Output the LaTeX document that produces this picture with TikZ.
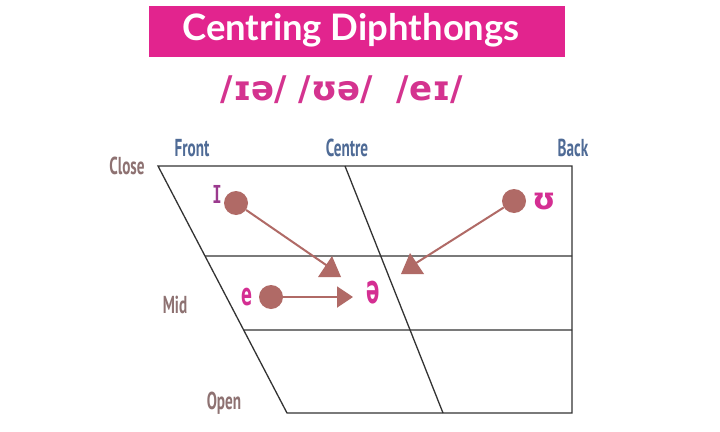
\documentclass[tikz,border=0pt]{standalone}
\usepackage{graphicx}
\usepackage{fontspec}
\setmainfont{Lato}
\newfontfamily\ipafont{DejaVu Sans}
\newfontfamily\chartipa{DejaVu Sans}
\newfontfamily\condipa{DejaVu Sans Condensed}
\newfontfamily\labfont{PT Sans}
\usetikzlibrary{arrows.meta,calc}
\definecolor{titlepink}{HTML}{E2248E}
\definecolor{subpink}{HTML}{D4338F}
\definecolor{brownlab}{HTML}{8E7272}
\definecolor{bluelab}{HTML}{4F6B96}
\definecolor{dotcol}{HTML}{B06A66}
\definecolor{gridcol}{HTML}{333333}
\definecolor{ipurple}{HTML}{9B3A8E}
\definecolor{ipink}{HTML}{D42E92}
\newcommand\condtxt[1]{\scalebox{0.62}[1]{#1}}
\begin{document}
\begin{tikzpicture}[x=1pt,y=-1pt,
  gridline/.style={draw=gridcol,line width=1.3pt},
  vdot/.style={circle,fill=dotcol,minimum size=24pt,inner sep=0pt},
  arrowline/.style={draw=dotcol,line width=2pt},
  arrowhead/.style={fill=dotcol},
  rowlab/.style={text=brownlab,font=\labfont\bfseries\fontsize{24.5}{24.5}\selectfont,inner sep=0pt},
  collab/.style={text=bluelab,font=\labfont\bfseries\fontsize{24.5}{24.5}\selectfont,inner sep=0pt},
  phon/.style={inner sep=0pt}]
\useasboundingbox (0,0) rectangle (720,431);
\fill[white] (0,0) rectangle (720,431);
% title
\node[fill=titlepink,minimum width=416pt,minimum height=51pt,inner sep=0pt] (titlebox) at (357,31.5) {};
\node[text=white,font=\bfseries\fontsize{36.5}{36.5}\selectfont,anchor=base,inner sep=0pt] (titletext) at (351,40) {Centring Diphthongs};
\node[text=subpink,font=\ipafont\bfseries\fontsize{34}{34}\selectfont,anchor=base,inner sep=0pt] (subtitle) at (342,100) {/ɪə/ /ʊə/ \ /eɪ/};
% chart corners
\coordinate (TL) at (158,166);
\coordinate (TC) at (345,166);
\coordinate (TR) at (572,166);
\coordinate (BL) at (287,413);
\coordinate (BC) at (443,413);
\coordinate (BR) at (572,413);
\coordinate (M1L) at ($(TL)!{90/247}!(BL)$);
\coordinate (M1R) at (572,256);
\coordinate (M2L) at ($(TL)!{164/247}!(BL)$);
\coordinate (M2R) at (572,330);
\draw[gridline] (TL) -- (TR) -- (BR) -- (BL) -- cycle;
\draw[gridline] (TC) -- (BC);
\draw[gridline] (M1L) -- (M1R);
\draw[gridline] (M2L) -- (M2R);
% labels
\node[rowlab] (close) at (127,166) {\condtxt{Close}};
\node[rowlab] (mid) at (175,305) {\condtxt{Mid}};
\node[rowlab] (open) at (224,403) {\condtxt{Open}};
\node[collab] (front) at (192,148) {\condtxt{Front}};
\node[collab] (centre) at (347,148) {\condtxt{Centre}};
\node[collab] (back) at (573,148) {\condtxt{Back}};
% dots
\node[vdot] (dI) at (236,203) {};
\node[vdot] (dU) at (514,201) {};
\node[vdot] (dE) at (271,297) {};
% symbols
\node[phon,text=ipurple,font=\chartipa\fontsize{33}{33}\selectfont] (sI) at (217,194) {\scalebox{0.8}[1]{ɪ}};
\node[phon,text=ipink,font=\chartipa\bfseries\fontsize{30}{30}\selectfont] (sU) at (544,202) {ʊ};
\node[phon,text=ipink,font=\condipa\bfseries\fontsize{31}{31}\selectfont] (sE) at (247,297) {\scalebox{0.58}[1]{e}};
\node[phon,text=ipink,font=\condipa\bfseries\fontsize{40}{40}\selectfont] (sSchwa) at (373,293) {\scalebox{0.55}[1]{ə}};
% arrows
\coordinate (aI) at (329,267);
\coordinate (aU) at (413,265);
\coordinate (aE) at (353,297);
\draw[arrowline] (dI) -- (aI);
\fill[arrowhead] (318,277) -- (341,277) -- (332,256) -- cycle;
\draw[arrowline] (dU) -- (aU);
\fill[arrowhead] (401,274) -- (424,274) -- (410,253) -- cycle;
\draw[arrowline,-{Triangle[length=16pt,width=21pt]}] (dE) -- (aE);
\end{tikzpicture}
\end{document}
